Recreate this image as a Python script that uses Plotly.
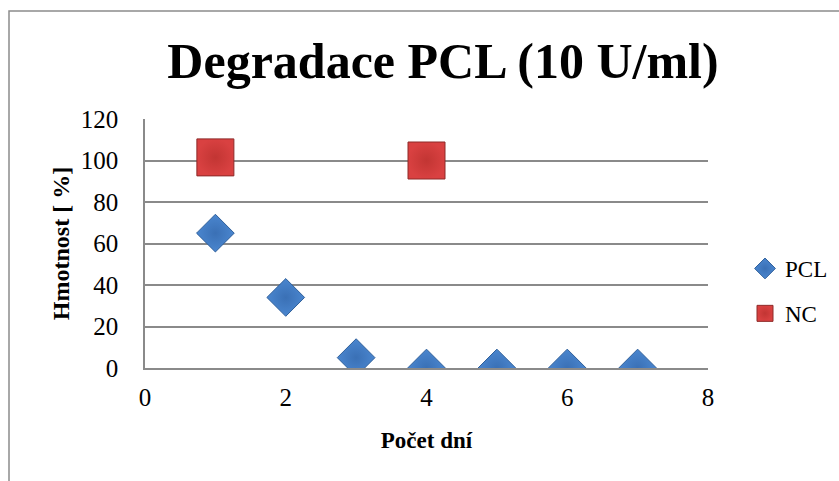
import plotly.graph_objects as go

days_pcl = [1, 2, 3, 4, 5, 6, 7]
mass_pcl = [65, 34, 5, 0, 0, 0, 0]
days_nc = [1, 4]
mass_nc = [101.5, 100]

x_ticks = [0, 2, 4, 6, 8]
y_ticks = [0, 20, 40, 60, 80, 100, 120]

W, H = 839, 481
L, R, T, B = 145, 131, 119, 113
pw, ph = W - L - R, H - T - B

def px_x(x):
    return (x - L) / pw

def px_y(y):
    return (H - B - y) / ph

serif = "Liberation Serif"
grid = "#8a8a8a"

fig = go.Figure()
fig.add_trace(go.Scatter(
    x=days_pcl, y=mass_pcl, mode="markers", name="PCL", legendgroup="a",
    marker=dict(symbol="diamond", size=29, color="#4a86cf",
                line=dict(color="#2f5f9a", width=1),
                gradient=dict(type="radial", color="#3a70b5")),
))
fig.add_trace(go.Scatter(
    x=days_nc, y=mass_nc, mode="markers", name="NC", legendgroup="b",
    marker=dict(symbol="square", size=37, color="#d94141",
                line=dict(color="#8e2a28", width=1),
                gradient=dict(type="radial", color="#c23533")),
))

fig.update_layout(
    width=W, height=H,
    margin=dict(l=L, r=R, t=T, b=B, autoexpand=False),
    paper_bgcolor="white", plot_bgcolor="white",
    font=dict(family=serif, color="black", size=22),
    title=dict(text="<b>Degradace PCL (10 U/ml)</b>", x=px_x(443), xref="paper", xanchor="center",
               y=1 - 60 / H, yanchor="middle", font=dict(size=50, family=serif, color="black")),
    xaxis=dict(range=[0, 8], tickvals=x_ticks, showgrid=False, zeroline=False,
               showline=True, linecolor=grid, linewidth=1.5, ticks="", ticklen=0,
               ticklabelstandoff=6, automargin=False,
               tickfont=dict(size=25, family=serif, color="black"),
               title=dict(text="<b>Počet dní</b>", font=dict(size=23, family=serif, color="black"), standoff=22)),
    yaxis=dict(range=[0, 120], tickvals=y_ticks, showgrid=True, gridcolor=grid, gridwidth=1.5,
               zeroline=False, showline=True, linecolor=grid, linewidth=1.5, ticks="",
               ticklabelstandoff=20, automargin=False,
               tickfont=dict(size=25, family=serif, color="black"),
               title=dict(text="<b>Hmotnost [ %]</b>", font=dict(size=24, family=serif, color="black"), standoff=4)),
    legend=dict(x=px_x(745), y=px_y(291), xanchor="left", yanchor="middle",
                font=dict(size=23, family=serif, color="black"), traceorder="grouped", tracegroupgap=12,
                itemwidth=30, bgcolor="rgba(0,0,0,0)"),
    showlegend=True,
    shapes=[dict(type="rect", xref="paper", yref="paper",
                 x0=px_x(9), x1=px_x(860), y0=px_y(500), y1=px_y(11),
                 line=dict(color="#8c8c8c", width=1.5), fillcolor="rgba(0,0,0,0)", layer="below")],
)

fig.write_html("out.html")
